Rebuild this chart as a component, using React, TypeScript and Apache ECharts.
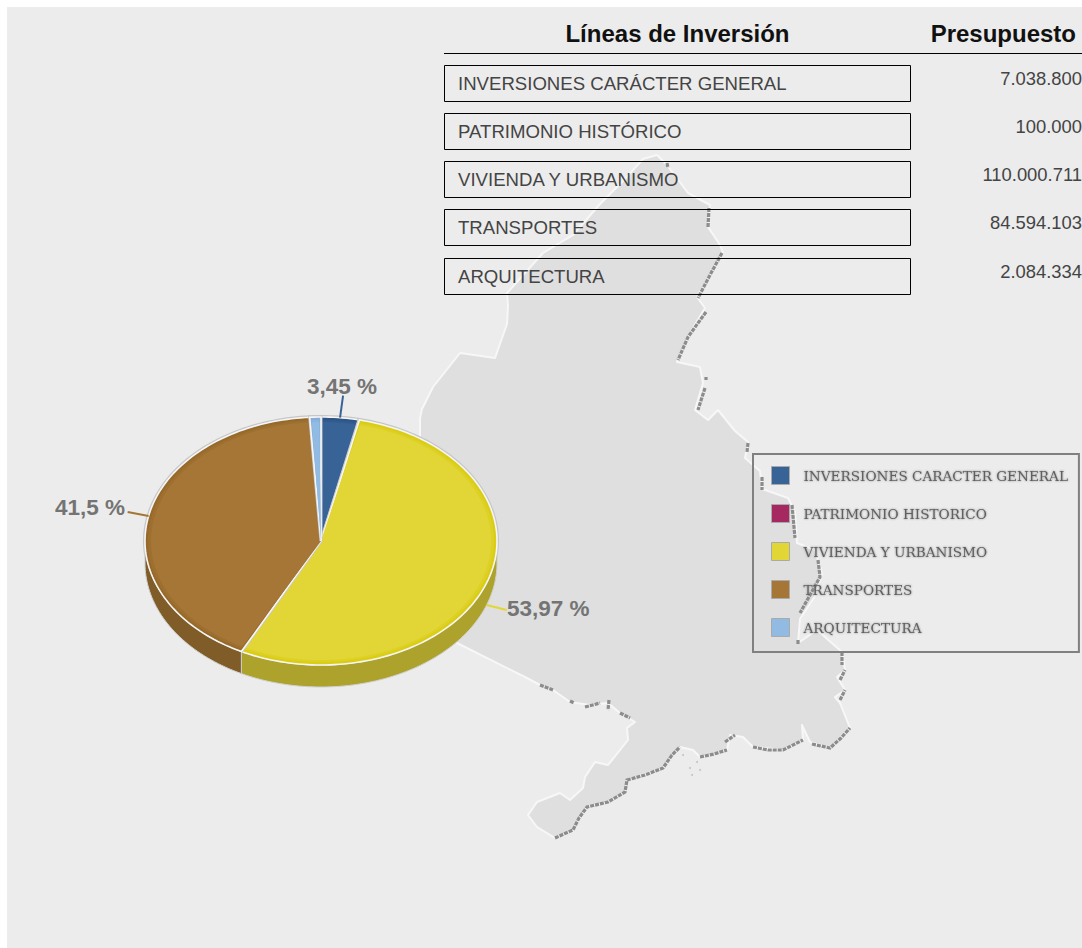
import React, { useEffect, useRef } from "react";
import * as echarts from "echarts";

const categories = ["INVERSIONES CARÁCTER GENERAL", "PATRIMONIO HISTÓRICO", "VIVIENDA Y URBANISMO", "TRANSPORTES", "ARQUITECTURA"];
const legendNames = ["INVERSIONES CARACTER GENERAL", "PATRIMONIO HISTORICO", "VIVIENDA Y URBANISMO", "TRANSPORTES", "ARQUITECTURA"];
const budget = [7038800, 100000, 110000711, 84594103, 2084334];
const budgetLabels = ["7.038.800", "100.000", "110.000.711", "84.594.103", "2.084.334"];
const percentLabels = ["3,45 %", "", "53,97 %", "41,5 %", ""];
const headers = ["Líneas de Inversión", "Presupuesto"];

const colors = ["#376397", "#a52861", "#e2d637", "#a57635", "#92bbe3"];
const rimColors = ["#2d5588", "#961f55", "#dacd14", "#976a2b", "#85afda"];
const wallColors = ["#2a4870", "#7a1d48", "#aca22c", "#7f5c28", "#6d8cab"];

const rowTops = [65, 113, 161, 209, 258];
const CX = 321, CY = 541, RX = 176, RY = 124, DEPTH = 22;
const leaders: any = [
  { dx: 3, dy: -22, tx: 342, ty: 386, align: "center" },
  null,
  { dx: 20, dy: 5, tx: 507, ty: 608, align: "left" },
  { dx: -21, dy: -4, tx: 125, ty: 507, align: "right" },
  null,
];

const mapOutline = [
  [657,155],[667,165],[688,193],[710,205],[708,227],[720,245],[723,253],[710,275],[697,297],[705,308],[690,333],[677,362],[700,367],[703,383],[695,410],[708,420],[718,410],[735,431],[748,442],[745,458],[760,471],[762,489],[788,498],[795,512],[797,543],[815,550],[822,574],[815,596],[800,619],[798,643],[817,630],[842,652],[845,670],[837,677],[845,690],[835,697],[840,703],[850,728],[830,748],[810,742],[802,725],[803,740],[783,750],[753,747],[743,737],[730,735],[727,750],[700,757],[693,750],[680,747],[663,768],[627,780],[625,792],[608,802],[587,807],[573,830],[555,838],[537,827],[528,815],[537,802],[560,793],[570,800],[583,788],[585,777],[595,762],[608,765],[628,740],[627,728],[635,722],[620,713],[608,703],[590,705],[570,702],[553,690],[540,685],[525,677],[457,643],[400,600],[400,500],[420,440],[420,418],[422,409],[433,387],[460,353],[495,358],[507,324],[508,306],[507,293],[543,253],[573,235],[600,204],[623,181],[643,159],
];
const coastSegments = [
  [[555,838],[566,833],[573,830],[579,818],[587,807],[608,802],[625,792],[627,780],[645,775],[663,768],[672,755],[680,747]],
  [[700,757],[714,754],[727,750]],[[725,742],[735,735]],
  [[753,747],[768,750],[783,750],[803,740]],
  [[812,744],[830,748],[841,738],[850,728]],
  [[842,652],[842,665]],[[840,680],[845,670]],[[840,700],[845,690]],
  [[540,685],[553,690]],[[570,701],[574,703]],[[585,707],[600,703]],[[609,700],[608,710]],[[620,713],[630,718]],
  [[667,163],[668,168]],[[709,208],[708,227]],[[722,253],[710,275],[698,298]],
  [[706,312],[698,323],[688,337],[678,360]],[[706,377],[706,380]],[[705,388],[698,410]],
  [[748,443],[747,452]],[[762,477],[762,490]],[[792,505],[795,538]],
  [[818,560],[820,577],[810,595],[800,613]],[[798,640],[798,645]],
];
const shoalDots = [[683,755],[690,768],[692,775],[697,762],[700,770]];

const total = budget.reduce((a, b) => a + b, 0);
const startOf = (i: number) => budget.slice(0, i).reduce((a, b) => a + b, 0) / total * 360;

const pt = (deg: number, rx: number, ry: number, oy = 0) => {
  const r = (deg * Math.PI) / 180;
  return [CX + rx * Math.sin(r), CY + oy - ry * Math.cos(r)];
};
const arc = (a: number, b: number, rx: number, ry: number, oy = 0) => {
  const out: number[][] = [];
  const n = Math.max(2, Math.ceil((b - a) / 1.5));
  for (let k = 0; k <= n; k++) out.push(pt(a + ((b - a) * k) / n, rx, ry, oy));
  return out;
};

const makeRender = (i: number) => (_p: any, api: any) => {
  const value = api.value(0);
  const a0 = startOf(i);
  const a1 = a0 + (value / total) * 360;
  const children: any[] = [];
  const w0 = Math.max(a0, 90), w1 = Math.min(a1, 270);
  const apex = [CX, CY];
  children.push({ type: "polygon", shape: { points: arc(a0, a1, RX + 0.5, RY + 0.5).concat([apex]) }, style: { fill: "none", stroke: "#c6c6c6", lineWidth: 3 } });
  if (w1 > w0) {
    const top = arc(w0, w1, RX, RY);
    const bot = arc(w0, w1, RX, RY, DEPTH).reverse();
    children.push({ type: "polygon", shape: { points: [...top, ...bot] }, style: { fill: wallColors[i], stroke: "#d0d0d0", lineWidth: 1 } });
  }
  children.push({ type: "polygon", shape: { points: [apex, ...arc(a0, a1, RX, RY)] }, style: { fill: rimColors[i], stroke: "#f6f6f6", lineWidth: 1.6 } });
  const inset = Math.min(a1 - a0, 1.2) / 2;
  children.push({ type: "polygon", shape: { points: [apex, ...arc(a0 + inset, a1 - inset, RX - 3, RY - 3)] }, style: { fill: colors[i], opacity: 0.5 } });
  children.push({ type: "polygon", shape: { points: [apex, ...arc(a0 + inset, a1 - inset, RX - 6, RY - 5)] }, style: { fill: colors[i] } });
  const lead = leaders[i];
  if (lead) {
    const mid = (a0 + a1) / 2;
    const p = pt(mid, RX, RY, mid > 90 && mid < 270 ? DEPTH : 0);
    children.push({ type: "line", shape: { x1: p[0], y1: p[1], x2: p[0] + lead.dx, y2: p[1] + lead.dy }, style: { stroke: colors[i], lineWidth: 2 } });
    children.push({ type: "text", style: { text: percentLabels[i], x: lead.tx, y: lead.ty, align: lead.align, verticalAlign: "middle", fill: "#747474", font: "bold 22.5px 'Liberation Sans'", shadowColor: "#999", shadowBlur: 3 } });
  }
  return { type: "group", children };
};

const App = () => {
  const ref = useRef<HTMLDivElement>(null);
  useEffect(() => {
    document.body.style.margin = "0";
    const chart = echarts.init(ref.current!, null, { renderer: "svg" });
    const F = "'Liberation Sans'";
    const graphic: any[] = [
      { type: "rect", z: 0, shape: { x: 7, y: 7, width: 1075, height: 941 }, style: { fill: "#ececec" } },
      { type: "polygon", z: 1, shape: { points: mapOutline }, style: { fill: "#dfdfdf", stroke: "#f7f7f7", lineWidth: 2, lineJoin: "round" } },
      ...coastSegments.map((points) => ({ type: "polyline", z: 1, shape: { points }, style: { stroke: "#8c8c8c", lineWidth: 3.2, lineDash: [4, 1], fill: "none" } })),
      ...shoalDots.map(([cx, cy]) => ({ type: "circle", z: 1, shape: { cx, cy, r: 1 }, style: { fill: "#c4c4c4" } })),
      { type: "line", z: 3, shape: { x1: 444, y1: 53.5, x2: 1082, y2: 53.5 }, style: { stroke: "#000", lineWidth: 1 } },
      { type: "text", z: 3, style: { text: headers[0], x: 677.5, y: 33, align: "center", verticalAlign: "middle", fill: "#111", font: `bold 24px ${F}` } },
      { type: "text", z: 3, style: { text: headers[1], x: 1076, y: 33, align: "right", verticalAlign: "middle", fill: "#111", font: `bold 24px ${F}` } },
      ...categories.flatMap((c, i) => [
        { type: "rect", z: 3, shape: { x: 444.5, y: rowTops[i] + 0.5, width: 466, height: 36 }, style: { fill: "none", stroke: "#000", lineWidth: 1 } },
        { type: "text", z: 3, style: { text: c, x: 458, y: rowTops[i] + 18.5, verticalAlign: "middle", fill: "#444", font: `18.6px ${F}` } },
        { type: "text", z: 3, style: { text: budgetLabels[i], x: 1082, y: rowTops[i] + 13.5, align: "right", verticalAlign: "middle", fill: "#444", font: `18.4px ${F}` } },
      ]),
    ];
    chart.setOption({
      animation: false,
      backgroundColor: "#fff",
      graphic,
      legend: {
        left: 753, top: 454, orient: "vertical", selectedMode: false, icon: "rect",
        itemWidth: 18, itemHeight: 18, itemGap: 19,
        padding: [12, 11, 15, 18], borderColor: "#808080", borderWidth: 2,
        itemStyle: { borderColor: "#aaa", borderWidth: 1 },
        textStyle: { color: "#5f5f5f", fontFamily: "'DejaVu Serif'", fontSize: 13.6, padding: [0, 0, 2, 9], textShadowColor: "#888", textShadowBlur: 2 },
        data: legendNames,
      },
      series: legendNames.map((name, i) => ({
        type: "custom", name, coordinateSystem: "none", z: 2, silent: true,
        itemStyle: { color: colors[i] },
        data: [[budget[i]]],
        renderItem: makeRender(i),
      })),
    });
    return () => chart.dispose();
  }, []);
  return <div ref={ref} style={{ position: "absolute", left: 0, top: 0, width: 1082, height: 948 }} />;
};
export default App;
